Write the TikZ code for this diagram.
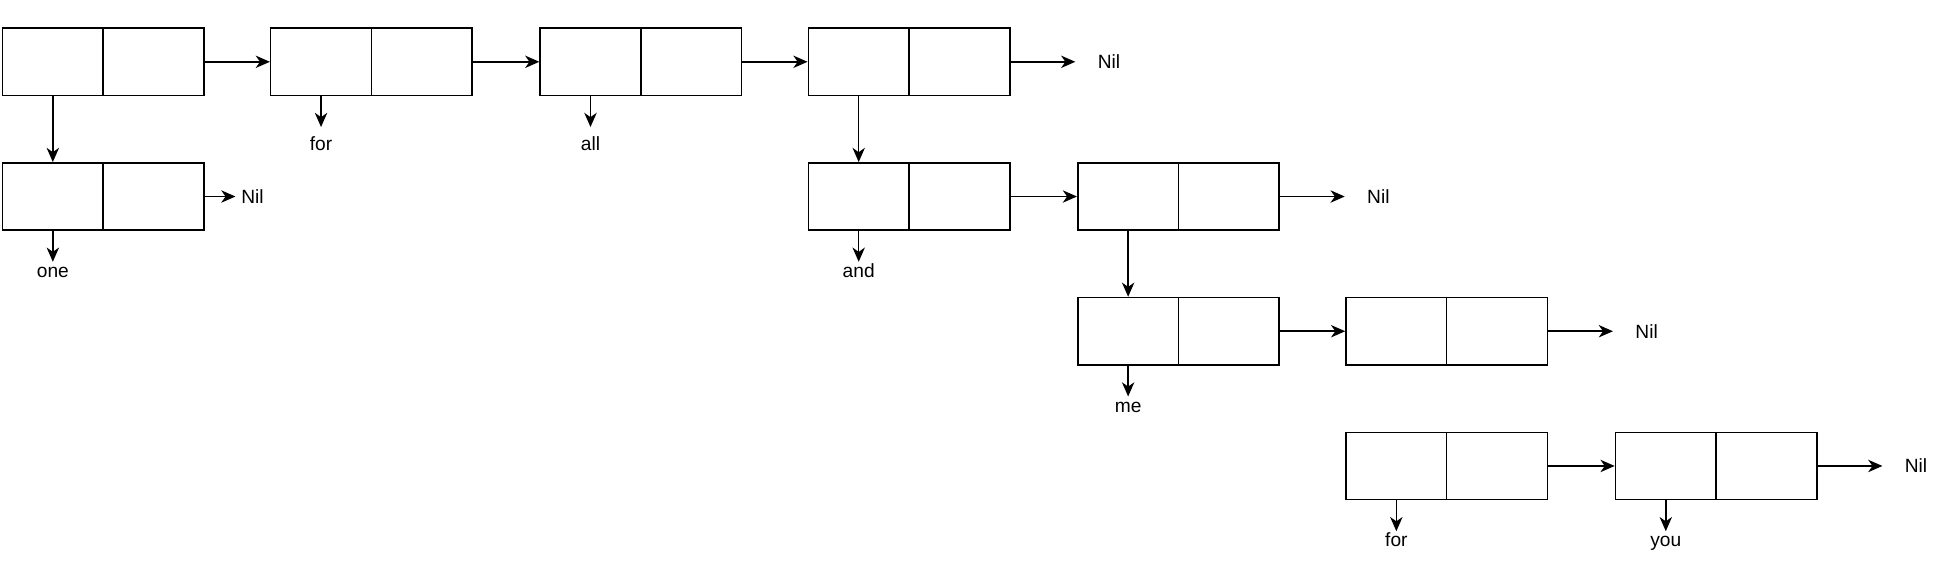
\documentclass[tikz,border=0pt]{standalone}
\usepackage{fontspec}
\setmainfont{Liberation Sans}
\usetikzlibrary{arrows.meta}
\tikzset{
  cell/.style={draw, line width=1.25pt, minimum width=81.5pt, minimum height=54.5pt, inner sep=0pt},
  ptr/.style={draw, line width=1.25pt, -{Stealth[length=11.5pt,width=10pt,inset=3.5pt]}},
  word/.style={inner sep=0pt, text height=11pt, text depth=3pt, anchor=base, font=\fontsize{15.5}{18}\selectfont},
  nilword/.style={inner sep=0pt, text height=11pt, text depth=0pt, anchor=west, font=\fontsize{15.5}{18}\selectfont},
}
\newcommand\mkcons[3]{%
  \node[cell] (#1L) at ({#2+40.75},#3) {};
  \node[cell] (#1R) at ({#2+122.25},#3) {};}
\begin{document}
\begin{tikzpicture}[x=1pt,y=-1pt]
\useasboundingbox (0,0) rectangle (1568,458);
% cons cells
\mkcons{A}{2}{50}
\mkcons{B}{219}{50}
\mkcons{C}{437}{50}
\mkcons{D}{654}{50}
\mkcons{E}{2}{159}
\mkcons{F}{654}{159}
\mkcons{G}{872}{159}
\mkcons{H}{872}{268}
\mkcons{I}{1089}{268}
\mkcons{J}{1089}{377}
\mkcons{K}{1307}{377}
% Nil labels
\node[nilword] (n1) at (888,50) {Nil};
\node[nilword] (n2) at (195,159) {Nil};
\node[nilword] (n3) at (1106,159) {Nil};
\node[nilword] (n4) at (1323,268) {Nil};
\node[nilword] (n5) at (1541,377) {Nil};
% word labels
\node[word] (wfor1) at (259.75,122) {for};
\node[word] (wall) at (477.75,122) {all};
\node[word] (wone) at (42.75,224.5) {one};
\node[word] (wand) at (694.75,224.5) {and};
\node[word] (wme) at (912.75,333.5) {me};
\node[word] (wfor2) at (1129.75,442.5) {for};
\node[word] (wyou) at (1347.75,442.5) {you};
% next pointers
\draw[ptr] (AR.east) -- (BL.west);
\draw[ptr] (BR.east) -- (CL.west);
\draw[ptr] (CR.east) -- (DL.west);
\draw[ptr] (FR.east) -- (GL.west);
\draw[ptr] (HR.east) -- (IL.west);
\draw[ptr] (JR.east) -- (KL.west);
% nil pointers
\draw[ptr, shorten >=18pt] (DR.east) -- (n1.west);
\draw[ptr, shorten >=4.5pt] (ER.east) -- (n2.west);
\draw[ptr, shorten >=18pt] (GR.east) -- (n3.west);
\draw[ptr, shorten >=18pt] (IR.east) -- (n4.west);
\draw[ptr, shorten >=18pt] (KR.east) -- (n5.west);
% sublist pointers
\draw[ptr] (AL.south) -- (EL.north);
\draw[ptr] (DL.south) -- (FL.north);
\draw[ptr] (GL.south) -- (HL.north);
% value pointers
\draw[ptr, shorten >=8pt] (BL.south) -- (wfor1.north);
\draw[ptr, shorten >=8pt] (CL.south) -- (wall.north);
\draw[ptr, shorten >=1.5pt] (EL.south) -- (wone.north);
\draw[ptr, shorten >=1.5pt] (FL.south) -- (wand.north);
\draw[ptr, shorten >=1.5pt] (HL.south) -- (wme.north);
\draw[ptr, shorten >=1.5pt] (JL.south) -- (wfor2.north);
\draw[ptr, shorten >=1.5pt] (KL.south) -- (wyou.north);
\end{tikzpicture}
\end{document}
